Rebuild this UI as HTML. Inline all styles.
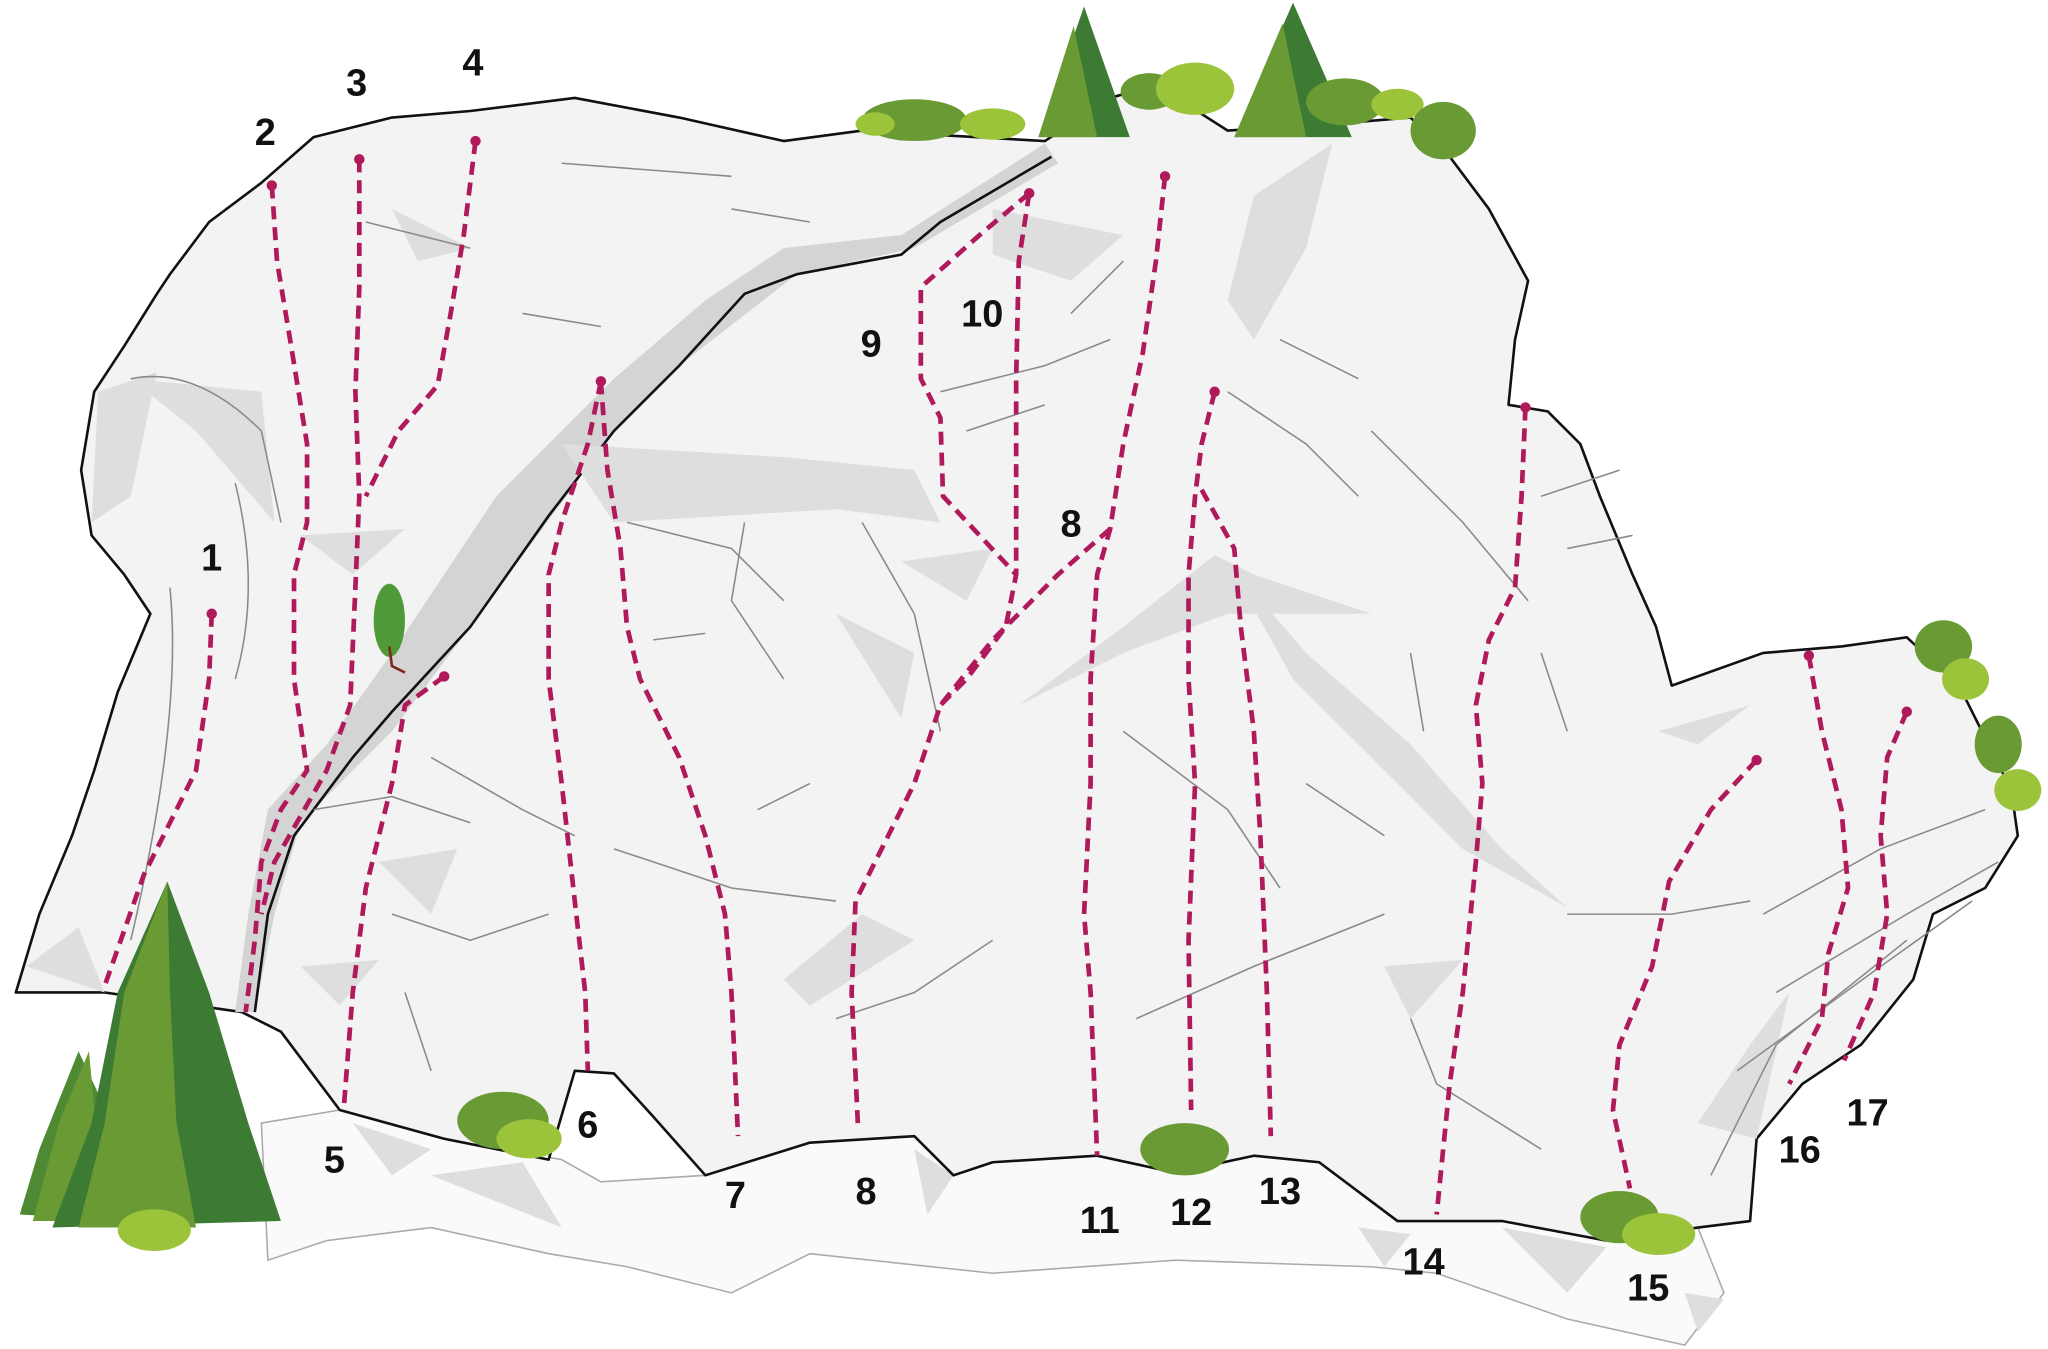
<!DOCTYPE html>
<html><head><meta charset="utf-8"><style>
html,body{margin:0;padding:0;background:#fff;}
svg{display:block;}
text{font-family:"Liberation Sans",sans-serif;font-weight:bold;font-size:29px;fill:#111;text-anchor:middle;}
.r{fill:none;stroke:#b01a5c;stroke-width:3.6;stroke-dasharray:10 6;stroke-linejoin:round;}
.c{fill:none;stroke:#8a8a8a;stroke-width:1.2;}
.s{fill:#dedede;}
</style></head><body>
<svg width="2048" height="1349" viewBox="0 0 1568 1033" xmlns="http://www.w3.org/2000/svg">
<!-- ground rocks -->
<g fill="#fafafa" stroke="#aaa" stroke-width="1.2">
<polygon points="200,860 260,850 340,872 430,888 460,905 540,900 620,875 700,870 760,890 840,885 900,898 960,885 1010,890 1070,935 1150,935 1230,950 1300,940 1320,990 1290,1030 1200,1010 1100,975 1050,970 900,965 760,975 620,960 560,990 480,970 420,960 330,940 250,950 205,965"/>
</g>
<polygon class="s" points="270,860 330,880 300,900"/>
<polygon class="s" points="330,900 400,890 430,940"/>
<polygon class="s" points="1040,940 1080,945 1060,970"/>
<polygon class="s" points="1150,940 1230,955 1200,990"/>
<polygon class="s" points="1290,990 1320,995 1300,1020"/>
<polygon class="s" points="700,880 730,900 710,930"/>
<!-- main wall -->
<polygon fill="#f3f3f3" stroke="#111" stroke-width="2" stroke-linejoin="round" points="12,760 30,700 55,640 72,590 90,530 115,470 95,440 70,410 62,360 72,300 95,265 120,225 130,210 160,170 200,140 240,105 300,90 360,85 440,75 520,90 600,108 660,100 800,108 850,75 885,65 940,100 1020,95 1080,90 1110,120 1140,160 1170,215 1160,260 1155,310 1185,315 1210,340 1225,380 1250,440 1268,480 1280,525 1350,500 1410,495 1460,488 1500,525 1520,565 1540,605 1545,640 1520,680 1480,700 1465,750 1425,800 1380,830 1345,872 1340,935 1300,940 1230,950 1150,935 1070,935 1010,890 960,885 900,898 840,885 760,890 730,900 700,870 620,875 540,900 500,855 470,822 440,820 420,888 340,872 260,850 215,790 185,775 80,760"/>
<!-- shadows -->
<polygon class="s" points="75,300 120,285 100,380 70,400"/>
<polygon class="s" points="100,290 200,300 210,400 150,330"/>
<polygon fill="#d4d4d4" points="180,775 190,700 205,620 250,570 300,500 380,380 470,290 540,230 600,190 690,180 800,110 810,125 700,190 610,210 520,280 470,330 360,480 300,560 230,630 210,700 195,775"/>
<polyline fill="none" stroke="#111" stroke-width="2" points="195,775 205,700 225,640 270,580 300,545 360,480 420,395 470,330 520,280 570,225 610,210 690,195 720,170 805,120"/>
<polygon class="s" points="430,340 600,350 700,360 720,400 640,390 470,400"/>
<polygon class="s" points="780,540 860,480 930,425 960,440 1050,470 1000,470 940,470 860,500"/>
<polygon class="s" points="940,430 1000,500 1080,570 1150,650 1200,695 1120,650 1050,580 990,520"/>
<polygon class="s" points="960,150 1020,110 1000,190 960,260 940,230"/>
<polygon class="s" points="760,160 860,180 820,215 760,195"/>
<polygon class="s" points="690,430 760,420 740,460"/>
<polygon class="s" points="640,470 700,500 690,550"/>
<polygon class="s" points="300,160 360,190 320,200"/>
<polygon class="s" points="230,410 310,405 270,440"/>
<polygon class="s" points="1060,740 1120,735 1080,780"/>
<polygon class="s" points="1270,560 1340,540 1300,570"/>
<polygon class="s" points="600,750 660,700 700,720 620,770"/>
<polygon class="s" points="1300,860 1340,800 1370,760 1345,872"/>
<polygon class="s" points="20,740 60,710 80,760"/>
<polygon class="s" points="290,660 350,650 330,700"/>
<polygon class="s" points="230,740 290,735 260,770"/>
<!-- cracks -->
<g class="c">
<path d="M100,290 Q150,280 200,330 L215,400"/><path d="M130,450 Q140,550 100,720"/><path d="M180,370 Q200,450 180,520"/>
<path d="M280,170 L360,190"/><path d="M400,240 L460,250"/><path d="M430,125 L560,135"/><path d="M560,160 L620,170"/>
<path d="M480,400 L560,420 L600,460"/><path d="M570,400 L560,460 L600,520"/><path d="M500,490 L540,485"/>
<path d="M660,400 L700,470 L720,560"/><path d="M720,300 L800,280 L850,260"/><path d="M740,330 L800,310"/>
<path d="M820,240 L860,200"/><path d="M940,300 L1000,340 L1040,380"/><path d="M980,260 L1040,290"/>
<path d="M1050,330 L1120,400 L1170,460"/><path d="M1180,380 L1240,360"/><path d="M1200,420 L1250,410"/>
<path d="M1080,500 L1090,560"/><path d="M1180,500 L1200,560"/><path d="M860,560 L940,620 L980,680"/>
<path d="M870,780 L960,740 L1060,700"/><path d="M1080,780 L1100,830 L1180,880"/><path d="M1200,700 L1280,700 L1340,690"/>
<path d="M1350,700 L1440,650 L1520,620"/><path d="M1360,760 L1460,700 L1530,660"/><path d="M1330,820 L1440,740 L1510,690"/>
<path d="M1310,900 L1360,800 L1460,720"/><path d="M240,620 L300,610 L360,630"/><path d="M300,700 L360,720 L420,700"/>
<path d="M330,580 L400,620 L440,640"/><path d="M470,650 L560,680 L640,690"/><path d="M580,620 L620,600"/>
<path d="M310,760 L330,820"/><path d="M640,780 L700,760 L760,720"/><path d="M1000,600 L1060,640"/>
</g>
<!-- top vegetation -->
<g>
<ellipse cx="700" cy="92" rx="40" ry="16" fill="#6a9a34"/><ellipse cx="760" cy="95" rx="25" ry="12" fill="#9cc43a"/><ellipse cx="670" cy="95" rx="15" ry="9" fill="#9cc43a"/>
<polygon points="830,5 795,105 865,105" fill="#3d7a34"/><polygon points="822,20 795,105 840,105" fill="#6a9a34"/>
<polygon points="990,2 945,105 1035,105" fill="#3d7a34"/><polygon points="982,18 945,105 1000,105" fill="#6a9a34"/>
<ellipse cx="880" cy="70" rx="22" ry="14" fill="#6a9a34"/>
<ellipse cx="915" cy="68" rx="30" ry="20" fill="#9cc43a"/><ellipse cx="1030" cy="78" rx="30" ry="18" fill="#6a9a34"/>
<ellipse cx="1070" cy="80" rx="20" ry="12" fill="#9cc43a"/><ellipse cx="1105" cy="100" rx="25" ry="22" fill="#6a9a34"/>
<ellipse cx="1488" cy="495" rx="22" ry="20" fill="#6a9a34"/><ellipse cx="1505" cy="520" rx="18" ry="16" fill="#9cc43a"/>
<ellipse cx="1530" cy="570" rx="18" ry="22" fill="#6a9a34"/><ellipse cx="1545" cy="605" rx="18" ry="16" fill="#9cc43a"/>
<ellipse cx="385" cy="858" rx="35" ry="22" fill="#6a9a34"/><ellipse cx="405" cy="872" rx="25" ry="15" fill="#9cc43a"/>
<ellipse cx="907" cy="880" rx="34" ry="20" fill="#6a9a34"/>
<ellipse cx="1240" cy="932" rx="30" ry="20" fill="#6a9a34"/><ellipse cx="1270" cy="945" rx="28" ry="16" fill="#9cc43a"/>
<ellipse cx="298" cy="475" rx="12" ry="28" fill="#4e9a38"/><path d="M298,495 L300,510 L310,515" stroke="#7a2a1a" stroke-width="2" fill="none"/>
<!-- left firs -->
<polygon points="60,805 30,880 15,930 105,935 95,880" fill="#4e8a34"/>
<polygon points="68,805 45,860 25,935 80,935" fill="#6a9a34"/>
<polygon points="128,675 90,760 70,860 40,940 215,935 190,860 160,760" fill="#3d7a34"/>
<polygon points="128,675 95,760 80,860 60,940 150,940 135,860 130,760" fill="#6a9a34"/>
<ellipse cx="118" cy="942" rx="28" ry="16" fill="#9cc43a"/>
</g>
<!-- routes -->
<g class="r">
<polyline points="162,470 160,520 150,590 110,670 80,755"/>
<polyline points="208,142 212,200 222,260 235,340 235,400 225,440 225,520 235,590 215,620 200,660 195,720 188,775"/>
<polyline points="275,122 275,220 272,300 275,380 272,450 268,540 250,590 210,660 200,700"/>
<polyline points="364,108 355,180 345,240 335,295 305,330 280,380"/>
<polyline points="340,518 310,540 300,600 280,680 270,760 263,850"/>
<polyline points="460,292 450,340 430,400 420,440 420,520 430,600 440,690 448,760 450,820"/>
<polyline points="460,292 465,360 475,420 480,480 490,520 520,580 540,640 555,700 560,760 565,870"/>
<polyline points="850,405 810,440 760,490 720,540 700,600 680,640 655,690 652,760 657,865"/>
<polyline points="788,148 750,180 705,220 705,290 720,320 722,380 750,410 778,440 770,480 740,520 720,540"/>
<polyline points="788,148 780,200 778,290 778,390 778,440"/>
<polyline points="892,135 885,200 875,270 860,340 850,405 840,440 835,520 835,600 830,700 835,760 840,885"/>
<polyline points="930,300 920,340 915,380 910,440 910,520 915,600 910,720 912,850"/>
<polyline points="920,375 945,420 950,480 960,560 965,640 970,760 973,870"/>
<polyline points="1168,312 1165,380 1160,450 1140,490 1130,540 1135,600 1130,660 1120,760 1110,830 1100,930"/>
<polyline points="1345,582 1310,620 1278,675 1265,740 1240,800 1235,850 1248,910"/>
<polyline points="1385,502 1395,560 1410,620 1415,680 1400,730 1395,780 1370,830"/>
<polyline points="1460,545 1445,580 1440,640 1445,700 1435,760 1412,812"/>
</g>
<g fill="#b01a5c">
<circle cx="162" cy="470" r="4"/><circle cx="208" cy="142" r="4"/><circle cx="275" cy="122" r="4"/><circle cx="364" cy="108" r="4"/>
<circle cx="340" cy="518" r="4"/><circle cx="460" cy="292" r="4"/><circle cx="788" cy="148" r="4"/><circle cx="892" cy="135" r="4"/>
<circle cx="930" cy="300" r="4"/><circle cx="1168" cy="312" r="4"/><circle cx="1345" cy="582" r="4"/><circle cx="1385" cy="502" r="4"/><circle cx="1460" cy="545" r="4"/>
</g>
<!-- labels -->
<text x="162" y="437">1</text><text x="203" y="111">2</text><text x="273" y="73">3</text><text x="362" y="58">4</text>
<text x="256" y="898">5</text><text x="450" y="871">6</text><text x="563" y="925">7</text><text x="663" y="922">8</text>
<text x="820" y="411">8</text><text x="667" y="273">9</text><text x="752" y="250">10</text><text x="842" y="944">11</text>
<text x="912" y="938">12</text><text x="980" y="922">13</text><text x="1090" y="976">14</text><text x="1262" y="996">15</text>
<text x="1378" y="890">16</text><text x="1430" y="862">17</text>
</svg>
</body></html>
